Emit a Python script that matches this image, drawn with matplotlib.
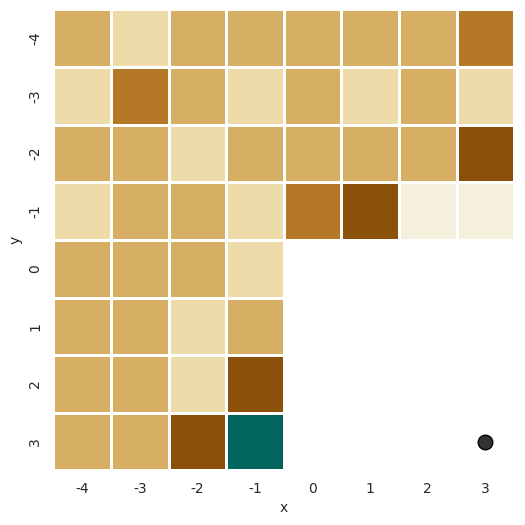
import numpy as np
import pandas as pd
import matplotlib
matplotlib.use("Agg")
import matplotlib.pyplot as plt
import seaborn as sns

# heatmap values (BrBG scale, 0..1), rows are y, columns are x
x_vals = [-4, -3, -2, -1, 0, 1, 2, 3]
y_vals = [-4, -3, -2, -1, 0, 1, 2, 3]
row_m4 = [0.27, 0.365, 0.27, 0.27, 0.27, 0.27, 0.27, 0.18]
row_m3 = [0.365, 0.18, 0.27, 0.365, 0.27, 0.365, 0.27, 0.365]
row_m2 = [0.27, 0.27, 0.365, 0.27, 0.27, 0.27, 0.27, 0.1]
row_m1 = [0.365, 0.27, 0.27, 0.365, 0.18, 0.1, 0.455, 0.455]
row_0 = [0.27, 0.27, 0.27, 0.365, np.nan, np.nan, np.nan, np.nan]
row_1 = [0.27, 0.27, 0.365, 0.27, np.nan, np.nan, np.nan, np.nan]
row_2 = [0.27, 0.27, 0.365, 0.1, np.nan, np.nan, np.nan, np.nan]
row_3 = [0.27, 0.27, 0.1, 0.9, np.nan, np.nan, np.nan, np.nan]

# marker position
dot_x = [3]
dot_y = [3]

sns.set_style("white")

grid = pd.DataFrame([row_m4, row_m3, row_m2, row_m1, row_0, row_1, row_2, row_3],
                    index=y_vals, columns=x_vals)

fig = plt.figure(figsize=(5.25, 5.25), dpi=100)
ax = fig.add_axes([0.1015, 0.104, 0.878, 0.878])

sns.heatmap(grid, cmap="BrBG", vmin=0, vmax=1, cbar=False,
            linewidths=2, linecolor="white", ax=ax)

# dot drawn at cell centres
ax.scatter([x_vals.index(v) + 0.5 for v in dot_x],
           [y_vals.index(v) + 0.5 for v in dot_y],
           s=110, color="#333333", edgecolor="black", linewidth=1, zorder=5)

ax.set_xlabel("x", color="#262626")
ax.set_ylabel("y", color="#262626")
ax.tick_params(axis="both", length=0, colors="#262626", labelsize=10)
ax.tick_params(axis="x", pad=8)
ax.tick_params(axis="y", pad=8)
plt.setp(ax.get_yticklabels(), rotation=90, va="center")

fig.savefig("out.png", dpi=100)
